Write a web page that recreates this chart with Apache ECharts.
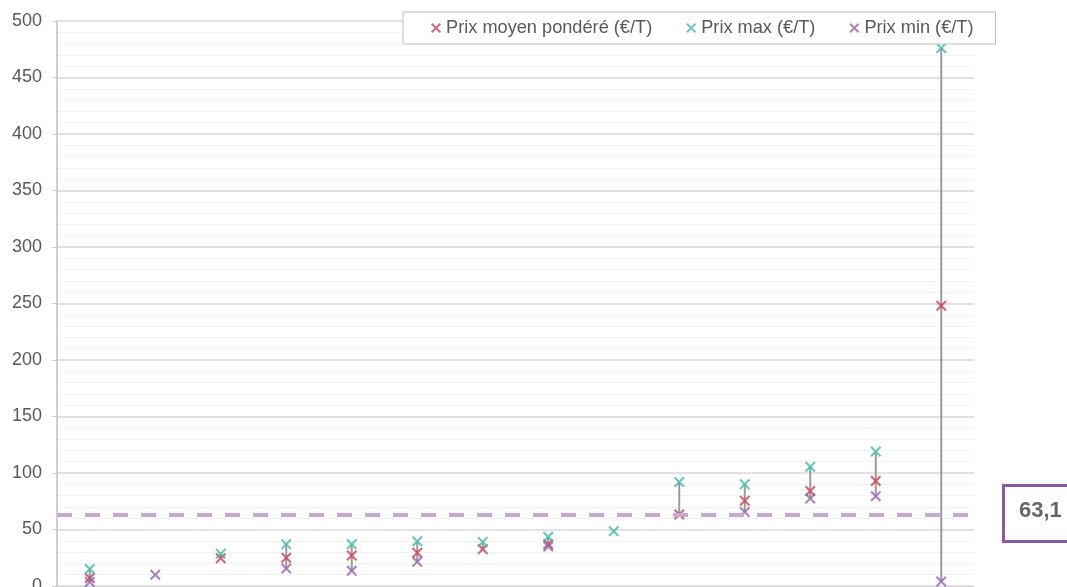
<!DOCTYPE html>
<html>
<head>
<meta charset="utf-8">
<script src="https://cdn.jsdelivr.net/npm/echarts@6/dist/echarts.min.js"></script>
<style>
html,body{margin:0;padding:0;background:#fff;}
#chart{width:1067px;height:587px;}
</style>
</head>
<body>
<div id="chart"></div>
<script>
// ---- data ----
const categories = ['1','2','3','4','5','6','7','8','9','10','11','12','13','14'];
const prixMoyen = [7, null, 24.5, 25, 27, 29.5, 32.5, 37, null, 63.2, 75.5, 84, 93, 248];
const prixMax   = [15, null, 28.5, 37, 37, 39.5, 39, 43.5, 48.5, 92, 90, 105.5, 119, 476];
const prixMin   = [3.5, 10, null, 15.5, 13.5, 21.5, null, 35, null, null, 65.5, 77.5, 79.5, 4];
const refValue = 63.1;
const refLabel = '63,1';
const yTicks = [0, 50, 100, 150, 200, 250, 300, 350, 400, 450, 500];
const seriesNames = ['Prix moyen pondéré (€/T)', 'Prix max (€/T)', 'Prix min (€/T)'];

const colors = { moyen: '#c84558', max: '#47b8a8', min: '#9466ad' };
const crossPath = 'path://M0,1.4 L1.4,0 L5,3.6 L8.6,0 L10,1.4 L6.4,5 L10,8.6 L8.6,10 L5,6.4 L1.4,10 L0,8.6 L3.6,5 Z';

const hiLo = categories.map((c, i) => {
  const vals = [prixMoyen[i], prixMax[i], prixMin[i]].filter(v => v !== null);
  return [i, Math.max(...vals), Math.min(...vals)];
});

const chart = echarts.init(document.getElementById('chart'));
const font = 'Liberation Sans, Arial, Helvetica, sans-serif';

chart.setOption({
  animation: false,
  textStyle: { fontFamily: font },
  grid: { left: 57, right: 93, top: 21, bottom: 1, containLabel: false, outerBoundsMode: 'none' },
  legend: {
    left: 403, top: 12,
    data: seriesNames.map(n => ({ name: n, icon: crossPath })),
    itemWidth: 10, itemHeight: 10, itemGap: 34,
    padding: [7, 22, 7, 28],
    borderColor: '#bfbfbf', borderWidth: 1, backgroundColor: '#fff',
    textStyle: { fontSize: 18.2, color: '#595959', fontFamily: font }
  },
  xAxis: {
    type: 'category', data: categories, boundaryGap: true,
    axisLine: { show: true, lineStyle: { color: '#d9d9d9' } },
    axisTick: { show: false }, axisLabel: { show: false }, splitLine: { show: false }
  },
  yAxis: {
    type: 'value', min: yTicks[0], max: yTicks[yTicks.length - 1], interval: 50,
    axisLine: { show: true, lineStyle: { color: '#bfbfbf', width: 1.5 } },
    axisTick: { show: true, length: 5, lineStyle: { color: '#d0d0d0' } },
    axisLabel: { fontSize: 18, color: '#595959', margin: 15, fontFamily: font },
    splitLine: { show: true, lineStyle: { color: '#d9d9d9', width: 1.5 } },
    minorTick: { show: false, splitNumber: 5 },
    minorSplitLine: { show: true, lineStyle: { color: '#f2f2f2', width: 1 } }
  },
  series: [
    {
      type: 'custom', name: 'hilo', silent: true, z: 1,
      data: hiLo,
      encode: { x: 0, y: [1, 2] },
      renderItem: function (params, api) {
        const p1 = api.coord([api.value(0), api.value(1)]);
        const p2 = api.coord([api.value(0), api.value(2)]);
        return { type: 'line', shape: { x1: p1[0], y1: p1[1], x2: p2[0], y2: p2[1] },
                 style: { stroke: '#9a9a9a', lineWidth: 2 } };
      },
      markLine: {
        silent: true, symbol: 'none',
        label: { show: false },
        lineStyle: { color: '#c6a9d3', width: 4, type: [15, 13] },
        data: [{ yAxis: refValue }]
      }
    },
    { type: 'scatter', name: seriesNames[0], data: prixMoyen, symbol: crossPath, symbolSize: 11,
      itemStyle: { color: colors.moyen }, z: 3 },
    { type: 'scatter', name: seriesNames[1], data: prixMax, symbol: crossPath, symbolSize: 11,
      itemStyle: { color: colors.max }, z: 3 },
    { type: 'scatter', name: seriesNames[2], data: prixMin, symbol: crossPath, symbolSize: 11,
      itemStyle: { color: colors.min }, z: 4 }
  ],
  graphic: [
    { type: 'rect', left: 1002, top: 484, shape: { width: 90, height: 56 },
      style: { fill: '#fff', stroke: '#8a5aa0', lineWidth: 3 } },
    { type: 'text', left: 1019, top: 500,
      style: { text: refLabel, font: 'bold 22px ' + font, fill: '#666666' } }
  ]
});
</script>
</body>
</html>
